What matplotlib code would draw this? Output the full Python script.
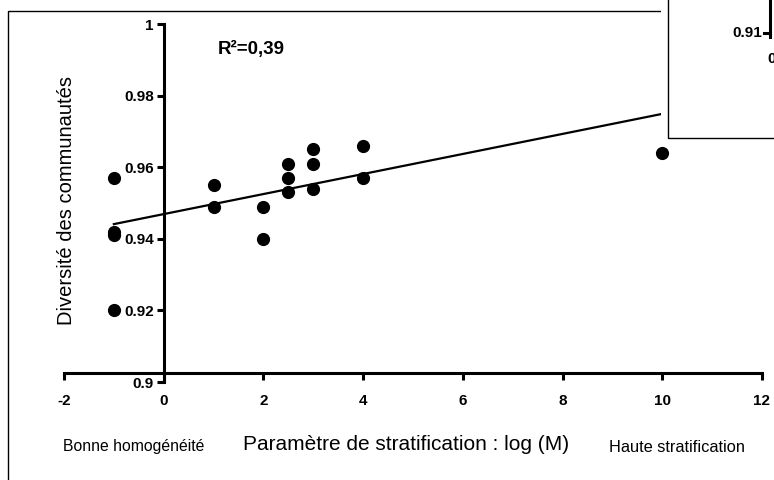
import matplotlib
matplotlib.use("Agg")
import matplotlib.pyplot as plt
from matplotlib.patches import Rectangle
from matplotlib import font_manager

plt.rcParams['font.family'] = ['Liberation Sans', 'DejaVu Sans']

# condensed face for ticks if present
names = {f.name for f in font_manager.fontManager.ttflist}
narrow = 'Liberation Sans Narrow' in names
print('narrow:', narrow)
tick_family = ['Liberation Sans Narrow'] if narrow else ['Liberation Sans']

# points
log_m = [-1, -1, -1, -1, 1, 1, 2, 2, 2.5, 2.5, 2.5, 3, 3, 3, 4, 4, 10]
diversite = [0.957, 0.942, 0.941, 0.920, 0.955, 0.949, 0.949, 0.940,
             0.961, 0.957, 0.953, 0.965, 0.961, 0.954, 0.966, 0.957, 0.964]

# regression line ends
fit_x = [-1, 10]
fit_y = [0.9441, 0.9749]

x_ticks = [-2, 0, 2, 4, 6, 8, 10, 12]
y_ticks = [0.9, 0.92, 0.94, 0.96, 0.98, 1.0]
y_labels = ['0.9', '0.92', '0.94', '0.96', '0.98', '1']

W, H = 774, 480
fig = plt.figure(figsize=(W / 100, H / 100), dpi=100)

# outer frame
fig.add_artist(Rectangle((8 / W, -0.01), 1.2, (H - 11) / H + 0.01, transform=fig.transFigure,
                         fill=False, edgecolor='black', linewidth=1.0))

ax = fig.add_axes([64 / W, (H - 382) / H, (762 - 64) / W, (382 - 24) / H])
ax.set_xlim(-2, 12)
ax.set_ylim(0.9, 1.0)
ax.patch.set_visible(False)

ax.scatter(log_m, diversite, s=72, color='black', zorder=3, clip_on=False)
ax.plot(fit_x, fit_y, color='black', linewidth=1.6, clip_on=False)

for s in ['top', 'right']:
    ax.spines[s].set_visible(False)
ax.spines['left'].set_position(('data', 0))
ax.spines['bottom'].set_position(('data', 0.9025))
ax.spines['left'].set_linewidth(2.2)
ax.spines['bottom'].set_linewidth(2.2)

tsize = 12.5 if narrow else 11
ax.set_xticks(x_ticks)
ax.set_xticklabels([str(t) for t in x_ticks])
ax.set_yticks(y_ticks)
ax.set_yticklabels(y_labels)
ax.tick_params(axis='x', direction='out', length=5, width=2.2, pad=10, labelsize=tsize)
ax.tick_params(axis='y', direction='out', length=5, width=2.2, pad=2, labelsize=tsize)
for lab in ax.get_xticklabels() + ax.get_yticklabels():
    lab.set_fontweight('bold')
    lab.set_family(tick_family)

# labels
fig.text(66 / W, 1 - 200 / H, 'Diversité des communautés', rotation=90,
         ha='center', va='center', fontsize=14.5)
fig.text(406 / W, 1 - 444 / H, 'Paramètre de stratification : log (M)',
         ha='center', va='center', fontsize=15)
small = 13 if narrow else 11.3
fig.text(134 / W, 1 - 447 / H, 'Bonne homogénéité', ha='center', va='center',
         fontsize=small, family=tick_family)
fig.text(677 / W, 1 - 447 / H, 'Haute stratification', ha='center', va='center',
         fontsize=small + 0.5, family=tick_family)
fig.text(218 / W, 1 - 49 / H, 'R²=0,39', ha='left', va='center',
         fontsize=13.5, fontweight='bold')

# piece of the neighbouring panel (inset box top right)
fig.add_artist(Rectangle((661 / W, 1 - 138 / H), 0.2, 0.5, transform=fig.transFigure,
                         facecolor='white', edgecolor='none', zorder=5))
fig.add_artist(Rectangle((668 / W, 1 - 138 / H), 0.2, 0.5, transform=fig.transFigure,
                         fill=False, edgecolor='black', linewidth=1.0, zorder=6))
fig.add_artist(plt.Line2D([770 / W, 770 / W], [1.0, 1 - 37 / H], transform=fig.transFigure,
                          color='black', linewidth=2.2, zorder=7))
fig.add_artist(plt.Line2D([764 / W, 770 / W], [1 - 33 / H, 1 - 33 / H], transform=fig.transFigure,
                          color='black', linewidth=2.2, zorder=7))
fig.text(762 / W, 1 - 33 / H, '0.91', ha='right', va='center', fontsize=tsize,
         fontweight='bold', family=tick_family, zorder=7)
fig.text(767 / W, 1 - 59 / H, '0', ha='left', va='center', fontsize=tsize,
         fontweight='bold', family=tick_family, zorder=7)

fig.savefig('out.png', dpi=100)
